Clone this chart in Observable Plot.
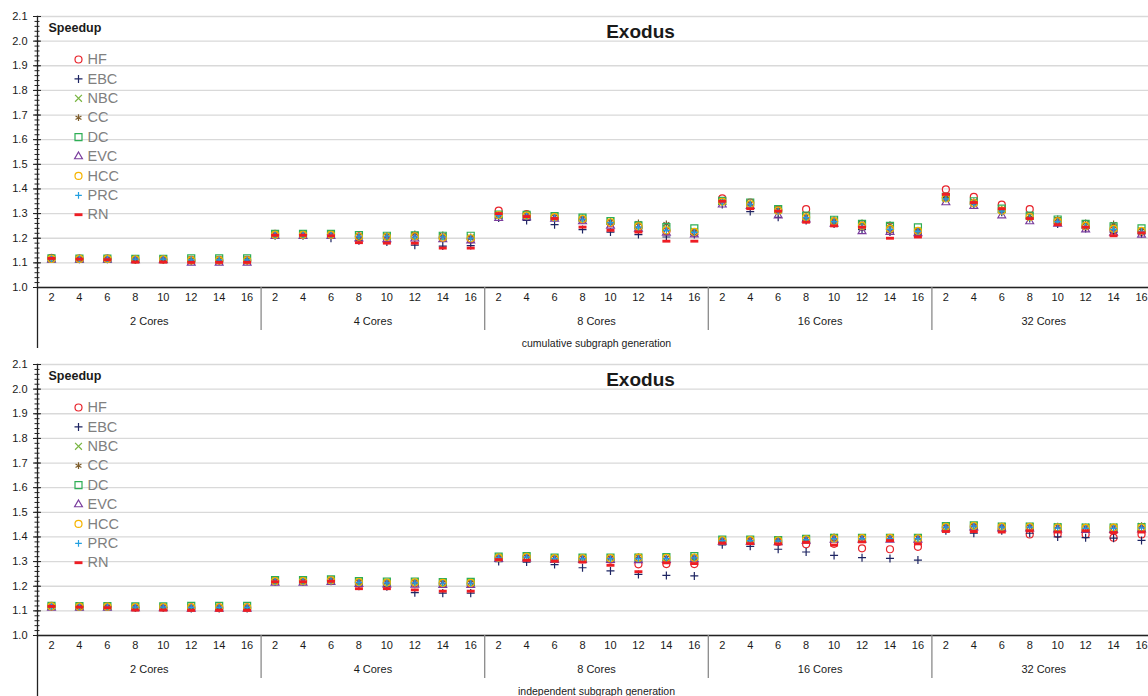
<!DOCTYPE html>
<html>
<head>
<meta charset="utf-8">
<script src="https://cdn.jsdelivr.net/npm/d3@7"></script>
<script src="https://cdn.jsdelivr.net/npm/@observablehq/plot@0.6"></script>
<style>
  html, body { margin: 0; padding: 0; background: #fff; width: 1148px; height: 696px; overflow: hidden; }
  #chart svg { display: block; max-width: none; }
</style>
</head>
<body>
<div id="chart"></div>
<script>
// Category axes
const cores = ["2 Cores", "4 Cores", "8 Cores", "16 Cores", "32 Cores"];
const threads = ["2", "4", "6", "8", "10", "12", "14", "16"];
const yMajor = [1.0, 1.1, 1.2, 1.3, 1.4, 1.5, 1.6, 1.7, 1.8, 1.9, 2.0, 2.1];

// Series (legend order = drawing order)
const seriesNames = ["HF", "EBC", "NBC", "CC", "DC", "EVC", "HCC", "PRC", "RN"];

// Speedup, cumulative subgraph generation (groups of 8 thread counts per core count)
const cumHF = [
  1.120, 1.117, 1.117, 1.115, 1.115, 1.112, 1.112, 1.112,
  1.218, 1.216, 1.215, 1.208, 1.206, 1.207, 1.202, 1.195,
  1.312, 1.298, 1.285, 1.275, 1.262, 1.245, 1.228, 1.222,
  1.362, 1.345, 1.315, 1.318, 1.268, 1.248, 1.235, 1.225,
  1.398, 1.368, 1.336, 1.318, 1.270, 1.248, 1.232, 1.226];
const cumEBC = [
  1.117, 1.115, 1.115, 1.112, 1.112, 1.108, 1.108, 1.108,
  1.210, 1.210, 1.200, 1.190, 1.185, 1.172, 1.168, 1.170,
  1.282, 1.272, 1.255, 1.235, 1.225, 1.215, 1.205, 1.215,
  1.337, 1.308, 1.285, 1.272, 1.258, 1.235, 1.225, 1.218,
  1.365, 1.338, 1.305, 1.280, 1.258, 1.240, 1.225, 1.218];
const cumNBC = [
  1.117, 1.116, 1.116, 1.114, 1.114, 1.112, 1.112, 1.112,
  1.216, 1.216, 1.216, 1.210, 1.208, 1.210, 1.205, 1.202,
  1.296, 1.294, 1.288, 1.280, 1.268, 1.252, 1.238, 1.228,
  1.350, 1.342, 1.315, 1.288, 1.270, 1.252, 1.240, 1.230,
  1.362, 1.345, 1.315, 1.290, 1.272, 1.255, 1.242, 1.230];
const cumCC = [
  1.117, 1.116, 1.116, 1.114, 1.114, 1.112, 1.112, 1.112,
  1.216, 1.216, 1.215, 1.210, 1.210, 1.218, 1.213, 1.205,
  1.296, 1.294, 1.288, 1.282, 1.270, 1.262, 1.258, 1.228,
  1.350, 1.342, 1.318, 1.290, 1.275, 1.262, 1.255, 1.232,
  1.365, 1.348, 1.318, 1.292, 1.278, 1.262, 1.258, 1.232];
const cumDC = [
  1.118, 1.117, 1.117, 1.116, 1.116, 1.118, 1.118, 1.118,
  1.218, 1.218, 1.218, 1.213, 1.210, 1.212, 1.210, 1.210,
  1.296, 1.295, 1.290, 1.284, 1.270, 1.252, 1.245, 1.240,
  1.352, 1.345, 1.318, 1.292, 1.275, 1.258, 1.250, 1.244,
  1.368, 1.350, 1.320, 1.292, 1.276, 1.258, 1.248, 1.240];
const cumEVC = [
  1.112, 1.112, 1.112, 1.110, 1.110, 1.100, 1.100, 1.100,
  1.208, 1.208, 1.208, 1.198, 1.195, 1.198, 1.195, 1.190,
  1.282, 1.285, 1.278, 1.268, 1.250, 1.238, 1.222, 1.215,
  1.336, 1.330, 1.292, 1.275, 1.258, 1.228, 1.225, 1.220,
  1.345, 1.330, 1.292, 1.268, 1.258, 1.235, 1.222, 1.214];
const cumHCC = [
  1.116, 1.116, 1.116, 1.114, 1.114, 1.110, 1.110, 1.110,
  1.214, 1.214, 1.214, 1.206, 1.206, 1.208, 1.202, 1.200,
  1.294, 1.292, 1.286, 1.278, 1.264, 1.248, 1.232, 1.226,
  1.348, 1.338, 1.312, 1.285, 1.268, 1.250, 1.238, 1.230,
  1.362, 1.342, 1.312, 1.286, 1.268, 1.250, 1.238, 1.230];
const cumPRC = [
  1.116, 1.116, 1.116, 1.115, 1.115, 1.112, 1.112, 1.112,
  1.214, 1.214, 1.213, 1.208, 1.208, 1.205, 1.205, 1.200,
  1.294, 1.290, 1.283, 1.277, 1.263, 1.245, 1.232, 1.224,
  1.346, 1.338, 1.310, 1.284, 1.267, 1.248, 1.236, 1.228,
  1.360, 1.340, 1.310, 1.284, 1.267, 1.248, 1.236, 1.228];
const cumRN = [
  1.118, 1.115, 1.113, 1.103, 1.103, 1.102, 1.102, 1.102,
  1.212, 1.212, 1.210, 1.182, 1.180, 1.180, 1.160, 1.160,
  1.300, 1.288, 1.280, 1.245, 1.232, 1.225, 1.188, 1.188,
  1.350, 1.320, 1.310, 1.265, 1.250, 1.245, 1.200, 1.205,
  1.378, 1.345, 1.320, 1.280, 1.255, 1.245, 1.210, 1.222];

// Speedup, independent subgraph generation
const indHF = [
  1.120, 1.118, 1.118, 1.115, 1.115, 1.114, 1.114, 1.114,
  1.222, 1.222, 1.225, 1.215, 1.212, 1.212, 1.210, 1.210,
  1.316, 1.318, 1.312, 1.310, 1.308, 1.289, 1.290, 1.290,
  1.385, 1.385, 1.380, 1.370, 1.372, 1.354, 1.350, 1.360,
  1.438, 1.440, 1.432, 1.410, 1.412, 1.410, 1.397, 1.410];
const indEBC = [
  1.117, 1.116, 1.116, 1.113, 1.113, 1.110, 1.110, 1.110,
  1.218, 1.218, 1.220, 1.200, 1.198, 1.174, 1.172, 1.172,
  1.300, 1.298, 1.288, 1.275, 1.262, 1.248, 1.244, 1.242,
  1.368, 1.362, 1.350, 1.339, 1.325, 1.316, 1.313, 1.306,
  1.425, 1.415, 1.425, 1.415, 1.400, 1.397, 1.395, 1.386];
const indNBC = [
  1.118, 1.117, 1.117, 1.116, 1.116, 1.115, 1.115, 1.115,
  1.223, 1.223, 1.226, 1.219, 1.217, 1.218, 1.216, 1.216,
  1.318, 1.321, 1.315, 1.315, 1.315, 1.317, 1.316, 1.318,
  1.388, 1.388, 1.387, 1.393, 1.398, 1.397, 1.397, 1.397,
  1.443, 1.447, 1.443, 1.443, 1.442, 1.440, 1.440, 1.443];
const indCC = [
  1.118, 1.117, 1.117, 1.116, 1.116, 1.115, 1.115, 1.115,
  1.222, 1.222, 1.225, 1.218, 1.216, 1.217, 1.215, 1.215,
  1.317, 1.320, 1.316, 1.316, 1.316, 1.320, 1.317, 1.318,
  1.387, 1.388, 1.388, 1.392, 1.400, 1.398, 1.396, 1.398,
  1.442, 1.446, 1.444, 1.442, 1.444, 1.440, 1.440, 1.446];
const indDC = [
  1.120, 1.119, 1.119, 1.118, 1.118, 1.120, 1.120, 1.120,
  1.225, 1.225, 1.228, 1.221, 1.219, 1.219, 1.217, 1.218,
  1.320, 1.322, 1.316, 1.316, 1.316, 1.316, 1.318, 1.322,
  1.389, 1.389, 1.387, 1.392, 1.396, 1.396, 1.396, 1.396,
  1.444, 1.447, 1.442, 1.442, 1.439, 1.438, 1.438, 1.440];
const indEVC = [
  1.112, 1.112, 1.112, 1.110, 1.110, 1.108, 1.108, 1.108,
  1.214, 1.214, 1.217, 1.208, 1.206, 1.205, 1.204, 1.204,
  1.310, 1.312, 1.306, 1.306, 1.306, 1.305, 1.306, 1.309,
  1.380, 1.380, 1.378, 1.384, 1.388, 1.388, 1.388, 1.388,
  1.434, 1.438, 1.434, 1.434, 1.430, 1.428, 1.428, 1.430];
const indHCC = [
  1.118, 1.117, 1.117, 1.115, 1.115, 1.114, 1.114, 1.114,
  1.221, 1.221, 1.224, 1.217, 1.215, 1.216, 1.214, 1.214,
  1.316, 1.319, 1.313, 1.313, 1.314, 1.316, 1.315, 1.316,
  1.386, 1.387, 1.385, 1.390, 1.394, 1.395, 1.396, 1.394,
  1.441, 1.445, 1.441, 1.441, 1.438, 1.437, 1.438, 1.438];
const indPRC = [
  1.117, 1.116, 1.116, 1.115, 1.115, 1.114, 1.114, 1.114,
  1.220, 1.220, 1.223, 1.216, 1.214, 1.214, 1.212, 1.212,
  1.315, 1.318, 1.312, 1.312, 1.312, 1.312, 1.312, 1.315,
  1.385, 1.385, 1.384, 1.389, 1.393, 1.393, 1.393, 1.393,
  1.440, 1.444, 1.440, 1.440, 1.436, 1.435, 1.435, 1.437];
const indRN = [
  1.118, 1.115, 1.113, 1.103, 1.103, 1.102, 1.102, 1.102,
  1.218, 1.218, 1.220, 1.190, 1.190, 1.185, 1.180, 1.180,
  1.308, 1.305, 1.302, 1.298, 1.285, 1.259, 1.295, 1.292,
  1.375, 1.373, 1.372, 1.378, 1.367, 1.380, 1.385, 1.372,
  1.422, 1.422, 1.420, 1.425, 1.420, 1.425, 1.418, 1.420];

// A short filled bar used as the RN marker
const dashSymbol = {
  draw(context, size) {
    const w = Math.sqrt(size) * 0.75, h = w * 0.36;
    context.moveTo(-w, -h);
    context.lineTo(w, -h);
    context.lineTo(w, h);
    context.lineTo(-w, h);
    context.closePath();
  }
};

const styles = {
  HF:  {symbol: "circle",   stroke: "#e8232b", fill: "none", r: 3.5},
  EBC: {symbol: "plus",     stroke: "#1d2462", fill: "none", r: 2.7},
  NBC: {symbol: "times",    stroke: "#78b541", fill: "none", r: 3.2},
  CC:  {symbol: "asterisk", stroke: "#7d5c2a", fill: "none", r: 3.2},
  DC:  {symbol: "square",   stroke: "#2eae55", fill: "none", r: 3.95},
  EVC: {symbol: "triangle", stroke: "#7a3d9d", fill: "none", r: 2.9},
  HCC: {symbol: "circle",   stroke: "#f6b400", fill: "none", r: 3.5},
  PRC: {symbol: "plus",     stroke: "#229fe0", fill: "none", r: 2.3},
  RN:  {symbol: dashSymbol, stroke: "none",    fill: "#ee1d24", r: 3}
};

const width = 1155, height = 348;
const marginLeft = 37, marginRight = 0, marginTop = 16, marginBottom = 61;
const keys = cores.flatMap(c => threads.map(t => `${c}|${t}`));
const bandwidth = (width - marginLeft - marginRight) / keys.length;
const yMinor = d3.range(0, 56).map(i => 1.0 + i * 0.02);

function buildRows(columns) {
  const rows = [];
  seriesNames.forEach((name, s) => {
    columns[s].forEach((v, i) => rows.push({series: name, key: keys[i], value: v}));
  });
  return rows;
}

function panel(columns, axisTitle) {
  const rows = buildRows(columns);
  const seriesMarks = seriesNames.map(name => Plot.dot(rows.filter(d => d.series === name), {
    x: "key", y: "value",
    symbol: styles[name].symbol, stroke: styles[name].stroke, fill: styles[name].fill,
    r: styles[name].r, strokeWidth: 1.2
  }));
  const legendMarks = seriesNames.flatMap((name, i) => [
    Plot.dot([name], {
      frameAnchor: "top-left", dx: 41, dy: 43 + i * 19.4,
      symbol: styles[name].symbol, stroke: styles[name].stroke, fill: styles[name].fill,
      r: styles[name].r, strokeWidth: 1.2
    }),
    Plot.text([name], {
      frameAnchor: "top-left", dx: 50, dy: 43 + i * 19.4, text: d => d,
      textAnchor: "start", lineAnchor: "middle", fontSize: 14.5, fill: "#808080"
    })
  ]);
  const groupStarts = cores.map(c => `${c}|${threads[0]}`);
  const groupMids = cores.map(c => `${c}|${threads[3]}`);
  return Plot.plot({
    width, height, marginLeft, marginRight, marginTop, marginBottom,
    style: {fontFamily: "'Liberation Sans', Arial, sans-serif", fontSize: "11px", color: "#1a1a1a", background: "#fff", overflow: "visible", maxWidth: "none"},
    x: {type: "band", domain: keys, padding: 0, axis: null},
    y: {domain: [1.0, 2.1], axis: null},
    marks: [
      Plot.gridY(yMajor, {stroke: "#d9d9d9", strokeOpacity: 1, strokeWidth: 1.3}),
      // y axis: major and minor cross ticks with labels
      Plot.axisY(yMinor, {tickSize: 5, dx: 2.5, tickFormat: () => "", label: null, stroke: "#222"}),
      Plot.axisY(yMajor, {tickSize: 8, dx: 4, tickPadding: 6, tickFormat: d3.format(".1f"), label: null, stroke: "#222", fontSize: 11}),
      Plot.frame({anchor: "left", stroke: "#222", strokeWidth: 1.3}),
      Plot.frame({anchor: "bottom", stroke: "#222", strokeWidth: 1.3}),
      // x axis: thread counts, core groups, group separators
      Plot.axisX(keys, {tickSize: 0, tickPadding: 6, tickFormat: d => d.split("|")[1], label: null, fontSize: 11}),
      Plot.axisX(groupMids, {tickSize: 0, tickPadding: 30, dx: bandwidth / 2, tickFormat: d => d.split("|")[0], label: null, fontSize: 11}),
      Plot.axisX(groupStarts.slice(1), {tickSize: 43, dx: -bandwidth / 2, tickFormat: () => "", label: null, stroke: "#8a8a8a", strokeWidth: 1.3}),
      Plot.axisX(groupStarts.slice(0, 1), {tickSize: 61, dx: -bandwidth / 2, tickFormat: () => "", label: null, stroke: "#222", strokeWidth: 1.3}),
      Plot.text([axisTitle], {frameAnchor: "bottom", dy: 56, lineAnchor: "middle", text: d => d, fontSize: 10.5, fill: "#1a1a1a"}),
      // titles
      Plot.text(["Exodus"], {frameAnchor: "top", dx: 44, dy: 15, lineAnchor: "middle", text: d => d, fontSize: 19, fontWeight: "bold", fill: "#1a1a1a"}),
      Plot.text(["Speedup"], {frameAnchor: "top-left", dx: 11, dy: 11, lineAnchor: "middle", text: d => d, textAnchor: "start", fontSize: 12.5, fontWeight: "bold", fill: "#1a1a1a"}),
      ...legendMarks,
      ...seriesMarks
    ]
  });
}

const chart = document.getElementById("chart");
chart.appendChild(panel([cumHF, cumEBC, cumNBC, cumCC, cumDC, cumEVC, cumHCC, cumPRC, cumRN], "cumulative subgraph generation"));
chart.appendChild(panel([indHF, indEBC, indNBC, indCC, indDC, indEVC, indHCC, indPRC, indRN], "independent subgraph generation"));
</script>
</body>
</html>
